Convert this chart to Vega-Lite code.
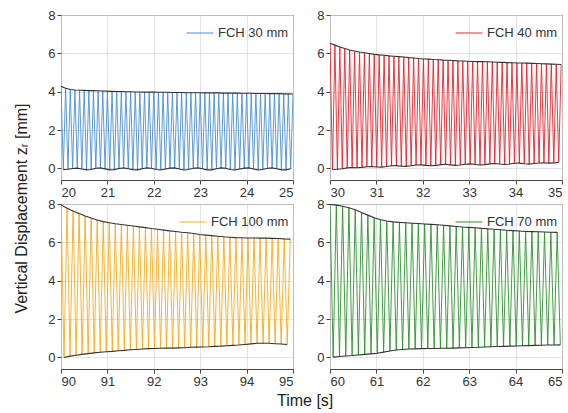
{
"$schema": "https://vega.github.io/schema/vega-lite/v6.json",
"padding": {"top": 8, "left": 14, "right": 2, "bottom": 4},
"background": "white",
"title": {"text": "Vertical Displacement zᵣ [mm]", "orient": "left", "anchor": "middle", "fontSize": 16, "fontWeight": "normal", "color": "#222", "offset": 17},
"datasets": {
"blue": [
{"t":20,"z":4.28,"k":"u"},{"t":20.05,"z":-0.06,"k":"l"},{"t":20.1,"z":4.18,"k":"u"},{"t":20.15,"z":-0.04,"k":"l"},{"t":20.2,"z":4.12,"k":"u"},{"t":20.25,"z":0.0,"k":"l"},{"t":20.3,"z":4.09,"k":"u"},{"t":20.35,"z":0.02,"k":"l"},{"t":20.4,"z":4.08,"k":"u"},{"t":20.45,"z":-0.03,"k":"l"},
{"t":20.5,"z":4.07,"k":"u"},{"t":20.55,"z":-0.07,"k":"l"},{"t":20.6,"z":4.06,"k":"u"},{"t":20.65,"z":-0.05,"k":"l"},{"t":20.7,"z":4.06,"k":"u"},{"t":20.75,"z":0.01,"k":"l"},{"t":20.8,"z":4.05,"k":"u"},{"t":20.85,"z":0.03,"k":"l"},{"t":20.9,"z":4.04,"k":"u"},{"t":20.95,"z":-0.02,"k":"l"},
{"t":21,"z":4.03,"k":"u"},{"t":21.05,"z":-0.07,"k":"l"},{"t":21.1,"z":4.02,"k":"u"},{"t":21.15,"z":-0.06,"k":"l"},{"t":21.2,"z":4.01,"k":"u"},{"t":21.25,"z":0.0,"k":"l"},{"t":21.3,"z":4.01,"k":"u"},{"t":21.35,"z":0.03,"k":"l"},{"t":21.4,"z":4.0,"k":"u"},{"t":21.45,"z":-0.01,"k":"l"},
{"t":21.5,"z":4.0,"k":"u"},{"t":21.55,"z":-0.06,"k":"l"},{"t":21.6,"z":3.99,"k":"u"},{"t":21.65,"z":-0.07,"k":"l"},{"t":21.7,"z":3.99,"k":"u"},{"t":21.75,"z":-0.01,"k":"l"},{"t":21.8,"z":3.98,"k":"u"},{"t":21.85,"z":0.03,"k":"l"},{"t":21.9,"z":3.98,"k":"u"},{"t":21.95,"z":0.01,"k":"l"},
{"t":22,"z":3.98,"k":"u"},{"t":22.05,"z":-0.05,"k":"l"},{"t":22.1,"z":3.97,"k":"u"},{"t":22.15,"z":-0.08,"k":"l"},{"t":22.2,"z":3.97,"k":"u"},{"t":22.25,"z":-0.03,"k":"l"},{"t":22.3,"z":3.97,"k":"u"},{"t":22.35,"z":0.02,"k":"l"},{"t":22.4,"z":3.96,"k":"u"},{"t":22.45,"z":0.03,"k":"l"},
{"t":22.5,"z":3.96,"k":"u"},{"t":22.55,"z":-0.03,"k":"l"},{"t":22.6,"z":3.96,"k":"u"},{"t":22.65,"z":-0.08,"k":"l"},{"t":22.7,"z":3.95,"k":"u"},{"t":22.75,"z":-0.05,"k":"l"},{"t":22.8,"z":3.95,"k":"u"},{"t":22.85,"z":0.01,"k":"l"},{"t":22.9,"z":3.95,"k":"u"},{"t":22.95,"z":0.03,"k":"l"},
{"t":23,"z":3.95,"k":"u"},{"t":23.05,"z":-0.01,"k":"l"},{"t":23.1,"z":3.94,"k":"u"},{"t":23.15,"z":-0.07,"k":"l"},{"t":23.2,"z":3.94,"k":"u"},{"t":23.25,"z":-0.07,"k":"l"},{"t":23.3,"z":3.94,"k":"u"},{"t":23.35,"z":-0.01,"k":"l"},{"t":23.4,"z":3.94,"k":"u"},{"t":23.45,"z":0.03,"k":"l"},
{"t":23.5,"z":3.93,"k":"u"},{"t":23.55,"z":0.01,"k":"l"},{"t":23.6,"z":3.93,"k":"u"},{"t":23.65,"z":-0.05,"k":"l"},{"t":23.7,"z":3.93,"k":"u"},{"t":23.75,"z":-0.08,"k":"l"},{"t":23.8,"z":3.93,"k":"u"},{"t":23.85,"z":-0.03,"k":"l"},{"t":23.9,"z":3.92,"k":"u"},{"t":23.95,"z":0.02,"k":"l"},
{"t":24,"z":3.92,"k":"u"},{"t":24.05,"z":0.03,"k":"l"},{"t":24.1,"z":3.92,"k":"u"},{"t":24.15,"z":-0.03,"k":"l"},{"t":24.2,"z":3.91,"k":"u"},{"t":24.25,"z":-0.08,"k":"l"},{"t":24.3,"z":3.91,"k":"u"},{"t":24.35,"z":-0.05,"k":"l"},{"t":24.4,"z":3.91,"k":"u"},{"t":24.45,"z":0.01,"k":"l"},
{"t":24.5,"z":3.9,"k":"u"},{"t":24.55,"z":0.03,"k":"l"},{"t":24.6,"z":3.9,"k":"u"},{"t":24.65,"z":-0.01,"k":"l"},{"t":24.7,"z":3.9,"k":"u"},{"t":24.75,"z":-0.07,"k":"l"},{"t":24.8,"z":3.89,"k":"u"},{"t":24.85,"z":-0.07,"k":"l"},{"t":24.9,"z":3.89,"k":"u"},{"t":24.95,"z":-0.01,"k":"l"},
{"t":25,"z":3.88,"k":"u"}
],
"red": [
{"t":30,"z":6.53,"k":"u"},{"t":30.053,"z":-0.05,"k":"l"},{"t":30.106,"z":6.43,"k":"u"},{"t":30.159,"z":-0.04,"k":"l"},{"t":30.212,"z":6.33,"k":"u"},{"t":30.265,"z":-0.01,"k":"l"},{"t":30.318,"z":6.25,"k":"u"},{"t":30.371,"z":0.03,"k":"l"},{"t":30.424,"z":6.18,"k":"u"},{"t":30.477,"z":0.05,"k":"l"},
{"t":30.53,"z":6.12,"k":"u"},{"t":30.583,"z":0.04,"k":"l"},{"t":30.636,"z":6.07,"k":"u"},{"t":30.689,"z":0.06,"k":"l"},{"t":30.742,"z":6.03,"k":"u"},{"t":30.795,"z":0.09,"k":"l"},{"t":30.848,"z":5.99,"k":"u"},{"t":30.901,"z":0.1,"k":"l"},{"t":30.954,"z":5.95,"k":"u"},{"t":31.007,"z":0.08,"k":"l"},
{"t":31.06,"z":5.92,"k":"u"},{"t":31.113,"z":0.07,"k":"l"},{"t":31.166,"z":5.9,"k":"u"},{"t":31.219,"z":0.1,"k":"l"},{"t":31.272,"z":5.87,"k":"u"},{"t":31.325,"z":0.14,"k":"l"},{"t":31.378,"z":5.85,"k":"u"},{"t":31.431,"z":0.15,"k":"l"},{"t":31.484,"z":5.83,"k":"u"},{"t":31.537,"z":0.12,"k":"l"},
{"t":31.59,"z":5.81,"k":"u"},{"t":31.643,"z":0.11,"k":"l"},{"t":31.696,"z":5.78,"k":"u"},{"t":31.749,"z":0.14,"k":"l"},{"t":31.802,"z":5.76,"k":"u"},{"t":31.855,"z":0.18,"k":"l"},{"t":31.908,"z":5.73,"k":"u"},{"t":31.961,"z":0.19,"k":"l"},{"t":32.014,"z":5.71,"k":"u"},{"t":32.067,"z":0.16,"k":"l"},
{"t":32.12,"z":5.7,"k":"u"},{"t":32.173,"z":0.14,"k":"l"},{"t":32.226,"z":5.68,"k":"u"},{"t":32.279,"z":0.16,"k":"l"},{"t":32.332,"z":5.67,"k":"u"},{"t":32.385,"z":0.2,"k":"l"},{"t":32.438,"z":5.65,"k":"u"},{"t":32.491,"z":0.22,"k":"l"},{"t":32.544,"z":5.64,"k":"u"},{"t":32.597,"z":0.19,"k":"l"},
{"t":32.65,"z":5.63,"k":"u"},{"t":32.703,"z":0.16,"k":"l"},{"t":32.756,"z":5.61,"k":"u"},{"t":32.809,"z":0.18,"k":"l"},{"t":32.862,"z":5.6,"k":"u"},{"t":32.915,"z":0.22,"k":"l"},{"t":32.968,"z":5.59,"k":"u"},{"t":33.021,"z":0.24,"k":"l"},{"t":33.074,"z":5.58,"k":"u"},{"t":33.127,"z":0.21,"k":"l"},
{"t":33.18,"z":5.57,"k":"u"},{"t":33.233,"z":0.18,"k":"l"},{"t":33.286,"z":5.57,"k":"u"},{"t":33.339,"z":0.2,"k":"l"},{"t":33.392,"z":5.56,"k":"u"},{"t":33.445,"z":0.24,"k":"l"},{"t":33.498,"z":5.55,"k":"u"},{"t":33.551,"z":0.26,"k":"l"},{"t":33.604,"z":5.54,"k":"u"},{"t":33.657,"z":0.23,"k":"l"},
{"t":33.71,"z":5.53,"k":"u"},{"t":33.763,"z":0.21,"k":"l"},{"t":33.816,"z":5.52,"k":"u"},{"t":33.869,"z":0.23,"k":"l"},{"t":33.922,"z":5.51,"k":"u"},{"t":33.975,"z":0.27,"k":"l"},{"t":34.028,"z":5.5,"k":"u"},{"t":34.081,"z":0.28,"k":"l"},{"t":34.134,"z":5.5,"k":"u"},{"t":34.187,"z":0.25,"k":"l"},
{"t":34.24,"z":5.49,"k":"u"},{"t":34.293,"z":0.23,"k":"l"},{"t":34.346,"z":5.48,"k":"u"},{"t":34.399,"z":0.26,"k":"l"},{"t":34.452,"z":5.47,"k":"u"},{"t":34.505,"z":0.29,"k":"l"},{"t":34.558,"z":5.46,"k":"u"},{"t":34.611,"z":0.3,"k":"l"},{"t":34.664,"z":5.45,"k":"u"},{"t":34.717,"z":0.28,"k":"l"},
{"t":34.77,"z":5.44,"k":"u"},{"t":34.823,"z":0.29,"k":"l"},{"t":34.876,"z":5.43,"k":"u"},{"t":34.929,"z":0.32,"k":"l"},{"t":34.982,"z":5.42,"k":"u"}
],
"yellow": [
{"t":90,"z":7.95,"k":"u"},{"t":90.065,"z":0.0,"k":"l"},{"t":90.13,"z":7.78,"k":"u"},{"t":90.195,"z":0.07,"k":"l"},{"t":90.26,"z":7.63,"k":"u"},{"t":90.325,"z":0.12,"k":"l"},{"t":90.39,"z":7.5,"k":"u"},{"t":90.455,"z":0.16,"k":"l"},{"t":90.52,"z":7.38,"k":"u"},{"t":90.585,"z":0.2,"k":"l"},
{"t":90.65,"z":7.27,"k":"u"},{"t":90.715,"z":0.24,"k":"l"},{"t":90.78,"z":7.17,"k":"u"},{"t":90.845,"z":0.27,"k":"l"},{"t":90.91,"z":7.08,"k":"u"},{"t":90.975,"z":0.3,"k":"l"},{"t":91.04,"z":7.02,"k":"u"},{"t":91.105,"z":0.32,"k":"l"},{"t":91.17,"z":6.97,"k":"u"},{"t":91.235,"z":0.35,"k":"l"},
{"t":91.3,"z":6.93,"k":"u"},{"t":91.365,"z":0.37,"k":"l"},{"t":91.43,"z":6.89,"k":"u"},{"t":91.495,"z":0.4,"k":"l"},{"t":91.56,"z":6.85,"k":"u"},{"t":91.625,"z":0.42,"k":"l"},{"t":91.69,"z":6.81,"k":"u"},{"t":91.755,"z":0.44,"k":"l"},{"t":91.82,"z":6.77,"k":"u"},{"t":91.885,"z":0.46,"k":"l"},
{"t":91.95,"z":6.72,"k":"u"},{"t":92.015,"z":0.47,"k":"l"},{"t":92.08,"z":6.68,"k":"u"},{"t":92.145,"z":0.48,"k":"l"},{"t":92.21,"z":6.64,"k":"u"},{"t":92.275,"z":0.49,"k":"l"},{"t":92.34,"z":6.6,"k":"u"},{"t":92.405,"z":0.49,"k":"l"},{"t":92.47,"z":6.57,"k":"u"},{"t":92.535,"z":0.5,"k":"l"},
{"t":92.6,"z":6.53,"k":"u"},{"t":92.665,"z":0.51,"k":"l"},{"t":92.73,"z":6.5,"k":"u"},{"t":92.795,"z":0.53,"k":"l"},{"t":92.86,"z":6.46,"k":"u"},{"t":92.925,"z":0.54,"k":"l"},{"t":92.99,"z":6.41,"k":"u"},{"t":93.055,"z":0.55,"k":"l"},{"t":93.12,"z":6.38,"k":"u"},{"t":93.185,"z":0.56,"k":"l"},
{"t":93.25,"z":6.35,"k":"u"},{"t":93.315,"z":0.58,"k":"l"},{"t":93.38,"z":6.32,"k":"u"},{"t":93.445,"z":0.59,"k":"l"},{"t":93.51,"z":6.29,"k":"u"},{"t":93.575,"z":0.61,"k":"l"},{"t":93.64,"z":6.27,"k":"u"},{"t":93.705,"z":0.63,"k":"l"},{"t":93.77,"z":6.25,"k":"u"},{"t":93.835,"z":0.65,"k":"l"},
{"t":93.9,"z":6.24,"k":"u"},{"t":93.965,"z":0.68,"k":"l"},{"t":94.03,"z":6.23,"k":"u"},{"t":94.095,"z":0.71,"k":"l"},{"t":94.16,"z":6.23,"k":"u"},{"t":94.225,"z":0.74,"k":"l"},{"t":94.29,"z":6.22,"k":"u"},{"t":94.355,"z":0.74,"k":"l"},{"t":94.42,"z":6.22,"k":"u"},{"t":94.485,"z":0.74,"k":"l"},
{"t":94.55,"z":6.21,"k":"u"},{"t":94.615,"z":0.72,"k":"l"},{"t":94.68,"z":6.2,"k":"u"},{"t":94.745,"z":0.7,"k":"l"},{"t":94.81,"z":6.18,"k":"u"},{"t":94.875,"z":0.68,"k":"l"},{"t":94.94,"z":6.17,"k":"u"}
],
"green": [
{"t":60,"z":7.98,"k":"u"},{"t":60.068,"z":0.02,"k":"l"},{"t":60.136,"z":7.94,"k":"u"},{"t":60.204,"z":0.05,"k":"l"},{"t":60.272,"z":7.88,"k":"u"},{"t":60.34,"z":0.08,"k":"l"},{"t":60.408,"z":7.8,"k":"u"},{"t":60.476,"z":0.1,"k":"l"},{"t":60.544,"z":7.7,"k":"u"},{"t":60.612,"z":0.13,"k":"l"},
{"t":60.68,"z":7.56,"k":"u"},{"t":60.748,"z":0.16,"k":"l"},{"t":60.816,"z":7.42,"k":"u"},{"t":60.884,"z":0.19,"k":"l"},{"t":60.952,"z":7.28,"k":"u"},{"t":61.02,"z":0.22,"k":"l"},{"t":61.088,"z":7.18,"k":"u"},{"t":61.156,"z":0.28,"k":"l"},{"t":61.224,"z":7.11,"k":"u"},{"t":61.292,"z":0.34,"k":"l"},
{"t":61.36,"z":7.07,"k":"u"},{"t":61.428,"z":0.39,"k":"l"},{"t":61.496,"z":7.04,"k":"u"},{"t":61.564,"z":0.42,"k":"l"},{"t":61.632,"z":7.02,"k":"u"},{"t":61.7,"z":0.44,"k":"l"},{"t":61.768,"z":7.0,"k":"u"},{"t":61.836,"z":0.45,"k":"l"},{"t":61.904,"z":6.98,"k":"u"},{"t":61.972,"z":0.46,"k":"l"},
{"t":62.04,"z":6.96,"k":"u"},{"t":62.108,"z":0.47,"k":"l"},{"t":62.176,"z":6.94,"k":"u"},{"t":62.244,"z":0.47,"k":"l"},{"t":62.312,"z":6.92,"k":"u"},{"t":62.38,"z":0.48,"k":"l"},{"t":62.448,"z":6.89,"k":"u"},{"t":62.516,"z":0.48,"k":"l"},{"t":62.584,"z":6.86,"k":"u"},{"t":62.652,"z":0.49,"k":"l"},
{"t":62.72,"z":6.83,"k":"u"},{"t":62.788,"z":0.5,"k":"l"},{"t":62.856,"z":6.8,"k":"u"},{"t":62.924,"z":0.51,"k":"l"},{"t":62.992,"z":6.78,"k":"u"},{"t":63.06,"z":0.52,"k":"l"},{"t":63.128,"z":6.76,"k":"u"},{"t":63.196,"z":0.53,"k":"l"},{"t":63.264,"z":6.73,"k":"u"},{"t":63.332,"z":0.55,"k":"l"},
{"t":63.4,"z":6.71,"k":"u"},{"t":63.468,"z":0.56,"k":"l"},{"t":63.536,"z":6.68,"k":"u"},{"t":63.604,"z":0.57,"k":"l"},{"t":63.672,"z":6.66,"k":"u"},{"t":63.74,"z":0.58,"k":"l"},{"t":63.808,"z":6.63,"k":"u"},{"t":63.876,"z":0.59,"k":"l"},{"t":63.944,"z":6.61,"k":"u"},{"t":64.012,"z":0.6,"k":"l"},
{"t":64.08,"z":6.59,"k":"u"},{"t":64.148,"z":0.61,"k":"l"},{"t":64.216,"z":6.57,"k":"u"},{"t":64.284,"z":0.62,"k":"l"},{"t":64.352,"z":6.56,"k":"u"},{"t":64.42,"z":0.63,"k":"l"},{"t":64.488,"z":6.55,"k":"u"},{"t":64.556,"z":0.64,"k":"l"},{"t":64.624,"z":6.54,"k":"u"},{"t":64.692,"z":0.65,"k":"l"},
{"t":64.76,"z":6.53,"k":"u"},{"t":64.828,"z":0.65,"k":"l"},{"t":64.896,"z":6.52,"k":"u"},{"t":64.964,"z":0.66,"k":"l"}
]
},
"vconcat": [
{
"title": {"text": "Time [s]", "orient": "bottom", "anchor": "middle", "fontSize": 16, "fontWeight": "normal", "color": "#222", "offset": 4},
"columns": 2,
"spacing": {"row": -3, "column": 22},
"resolve": {"scale": {"x": "independent", "y": "independent", "color": "independent"}, "legend": {"color": "independent"}},
"concat": [
{
"data": {"name": "blue"}, "width": 232, "height": 165,
"encoding": {
"x": {"field": "t", "type": "quantitative", "scale": {"domain": [20, 25], "nice": false, "zero": false}, "axis": {"values": [20, 21, 22, 23, 24, 25], "title": null}},
"y": {"field": "z", "type": "quantitative", "scale": {"domain": [-0.6, 8], "nice": false, "zero": false}, "axis": {"values": [0, 2, 4, 6, 8], "title": null}}
},
"layer": [
{"mark": {"type": "line", "strokeWidth": 0.9, "clip": true}, "encoding": {"color": {"datum": "FCH 30 mm", "type": "nominal", "scale": {"range": ["#4c8fd6"]}, "legend": {"title": null}}}},
{"mark": {"type": "line", "color": "#333", "strokeWidth": 1.1, "clip": true}, "encoding": {"detail": {"field": "k", "type": "nominal"}}}
]
},
{
"data": {"name": "red"}, "width": 232, "height": 165,
"encoding": {
"x": {"field": "t", "type": "quantitative", "scale": {"domain": [30, 35], "nice": false, "zero": false}, "axis": {"values": [30, 31, 32, 33, 34, 35], "title": null}},
"y": {"field": "z", "type": "quantitative", "scale": {"domain": [-0.6, 8], "nice": false, "zero": false}, "axis": {"values": [0, 2, 4, 6, 8], "title": null}}
},
"layer": [
{"mark": {"type": "line", "strokeWidth": 0.9, "clip": true}, "encoding": {"color": {"datum": "FCH 40 mm", "type": "nominal", "scale": {"range": ["#e8242c"]}, "legend": {"title": null}}}},
{"mark": {"type": "line", "color": "#333", "strokeWidth": 1.1, "clip": true}, "encoding": {"detail": {"field": "k", "type": "nominal"}}}
]
},
{
"data": {"name": "yellow"}, "width": 232, "height": 165,
"encoding": {
"x": {"field": "t", "type": "quantitative", "scale": {"domain": [90, 95], "nice": false, "zero": false}, "axis": {"values": [90, 91, 92, 93, 94, 95], "title": null}},
"y": {"field": "z", "type": "quantitative", "scale": {"domain": [-0.6, 8], "nice": false, "zero": false}, "axis": {"values": [0, 2, 4, 6, 8], "title": null}}
},
"layer": [
{"mark": {"type": "line", "strokeWidth": 0.9, "clip": true}, "encoding": {"color": {"datum": "FCH 100 mm", "type": "nominal", "scale": {"range": ["#f9aa1a"]}, "legend": {"title": null}}}},
{"mark": {"type": "line", "color": "#333", "strokeWidth": 1.1, "clip": true}, "encoding": {"detail": {"field": "k", "type": "nominal"}}}
]
},
{
"data": {"name": "green"}, "width": 232, "height": 165,
"encoding": {
"x": {"field": "t", "type": "quantitative", "scale": {"domain": [60, 65], "nice": false, "zero": false}, "axis": {"values": [60, 61, 62, 63, 64, 65], "title": null}},
"y": {"field": "z", "type": "quantitative", "scale": {"domain": [-0.6, 8], "nice": false, "zero": false}, "axis": {"values": [0, 2, 4, 6, 8], "title": null}}
},
"layer": [
{"mark": {"type": "line", "strokeWidth": 0.9, "clip": true}, "encoding": {"color": {"datum": "FCH 70 mm", "type": "nominal", "scale": {"range": ["#2e922e"]}, "legend": {"title": null}}}},
{"mark": {"type": "line", "color": "#333", "strokeWidth": 1.1, "clip": true}, "encoding": {"detail": {"field": "k", "type": "nominal"}}}
]
}
]
}
],
"config": {
"font": "Liberation Sans",
"view": {"stroke": "#444", "strokeWidth": 1},
"axis": {"domain": false, "grid": true, "gridColor": "#dcdcdc", "gridWidth": 0.8, "tickColor": "#444", "tickSize": 4, "labelFontSize": 13, "labelColor": "#333", "labelPadding": 2},
"legend": {"orient": "top-right", "offset": 4, "padding": 0, "labelFontSize": 13, "labelColor": "#333", "symbolType": "stroke", "symbolSize": 729, "symbolStrokeWidth": 1, "labelOffset": 4}
}
}
